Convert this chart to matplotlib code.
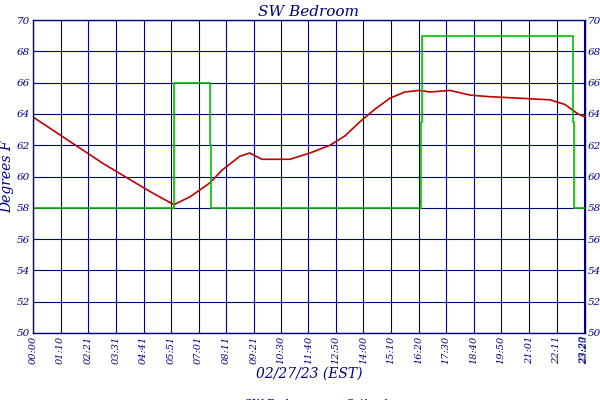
import matplotlib
matplotlib.use("Agg")
import matplotlib.pyplot as plt

# minutes since midnight
temp_t = [0, 60, 120, 180, 240, 300, 358, 399, 450, 480, 526, 551, 582, 653, 704, 755,
          793, 831, 869, 907, 945, 983, 1009, 1060, 1111, 1161, 1238, 1314, 1352, 1385, 1403]
temp_v = [63.8, 62.8, 61.8, 60.8, 59.9, 59.0, 58.2, 58.7, 59.6, 60.4, 61.3, 61.5, 61.1, 61.1,
          61.5, 62.0, 62.6, 63.5, 64.3, 65.0, 65.4, 65.5, 65.4, 65.5, 65.2, 65.1, 65.0, 64.9,
          64.6, 64.0, 63.8]

setback_t = [0, 358, 449, 452, 985, 988, 1372, 1376, 1403]
setback_v = [58, 66, 62, 58, 63.5, 69, 63.5, 58, 58]

tick_pos = [0, 70, 141, 211, 281, 351, 421, 491, 561, 630, 700, 770, 840, 910, 980,
            1050, 1120, 1190, 1261, 1331, 1400, 1403]
tick_lbl = ["00:00", "01:10", "02:21", "03:31", "04:41", "05:51", "07:01", "08:11", "09:21",
            "10:30", "11:40", "12:50", "14:00", "15:10", "16:20", "17:30", "18:40", "19:50",
            "21:01", "22:11", "23:20", "23:23"]

navy = "#000080"
fnt = {"family": "DejaVu Serif", "style": "italic", "color": navy}

fig = plt.figure(figsize=(6, 4), dpi=100)
ax = fig.add_axes([0.055, 0.1675, 0.92, 0.7825])
ax.plot(temp_t, temp_v, color="#c00000", lw=1.2, label="SW Bedroom")
ax.step(setback_t, setback_v, where="post", color="#00c000", lw=1.2, label="Setback")

ax.set_xlim(0, 1403)
ax.set_ylim(50, 70)
ax.set_xticks(tick_pos)
ax.set_xticklabels(tick_lbl, rotation=90, fontsize=7, **fnt)
ax.set_yticks(range(50, 71, 2))
ax.set_yticklabels([str(v) for v in range(50, 71, 2)], fontsize=7.5, **fnt)
ax.tick_params(length=0, pad=2, right=True, labelright=True)
ax.grid(True, color=navy, lw=0.8)
for s in ax.spines.values():
    s.set_color(navy)
    s.set_linewidth(1.0)

ax.set_title("SW Bedroom", fontsize=11, pad=3, **fnt)
ax.set_ylabel("Degrees F", fontsize=10, labelpad=2, **fnt)
ax.set_xlabel("02/27/23 (EST)", fontsize=10, labelpad=2, **fnt)
leg = ax.legend(loc="upper center", bbox_to_anchor=(0.5, -0.19), ncol=2, frameon=False,
                handlelength=1.2, columnspacing=1, handletextpad=0.3, borderpad=0.1,
                prop={"family": "DejaVu Serif", "style": "italic", "size": 8})
for t in leg.get_texts():
    t.set_color(navy)

fig.savefig("out.png", dpi=100)
